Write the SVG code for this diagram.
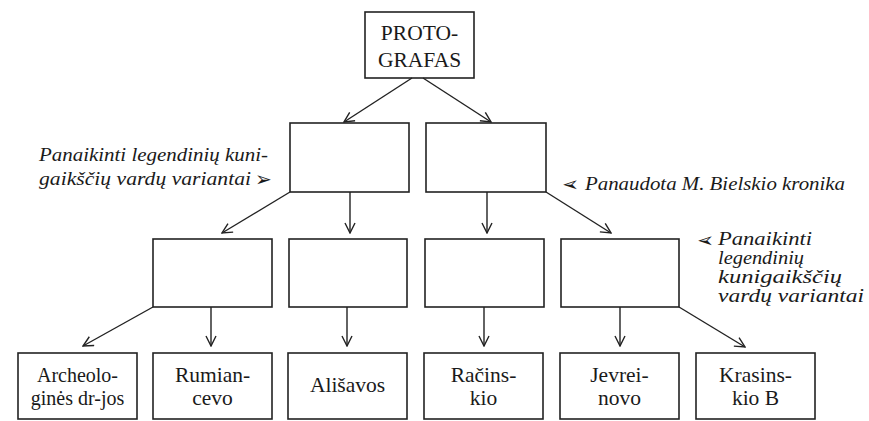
<svg xmlns="http://www.w3.org/2000/svg" width="869" height="421" viewBox="0 0 869 421">
<style>
.box{fill:#fff;stroke:#222;stroke-width:1.6}
.t{font-family:"Liberation Serif","DejaVu Serif","Times New Roman",serif;font-size:21.5px;fill:#1a1a1a;text-anchor:middle}
.s{font-size:20px}
.n{font-family:"Liberation Serif","DejaVu Serif","Times New Roman",serif;font-style:italic;font-size:19px;fill:#1a1a1a}
.m{font-size:18px}
.sym{font-family:"DejaVu Sans",sans-serif;font-size:20px;fill:#1a1a1a}
.c line{stroke:#222;stroke-width:1.4;marker-end:url(#ah)}
</style>
<defs>
<marker id="ah" viewBox="0 0 12 12" refX="11" refY="6" markerWidth="12" markerHeight="12" markerUnits="userSpaceOnUse" orient="auto">
<path d="M1,1 L11,6 L1,11" fill="none" stroke="#222" stroke-width="1.4"/>
</marker>
</defs>
<rect width="869" height="421" fill="#fff"/>
<g id="protografas"><rect class="box" x="365" y="12" width="109" height="66"/><text class="t" x="419.5" y="40">PROTO-</text><text class="t" x="419.5" y="67">GRAFAS</text></g>
<g id="l2a"><rect class="box" x="290" y="123" width="119" height="69"/></g>
<g id="l2b"><rect class="box" x="426" y="123" width="120" height="69"/></g>
<g id="l3a"><rect class="box" x="153" y="239" width="119" height="68"/></g>
<g id="l3b"><rect class="box" x="289" y="239" width="118" height="68"/></g>
<g id="l3c"><rect class="box" x="425" y="239" width="119" height="68"/></g>
<g id="l3d"><rect class="box" x="561" y="239" width="118" height="68"/></g>
<g id="archeologines"><rect class="box" x="18" y="353" width="119" height="66"/><text class="t s" x="77.5" y="382">Archeolo-</text><text class="t s" x="77.5" y="405">ginės dr-jos</text></g>
<g id="rumiancevo"><rect class="box" x="153" y="353" width="119" height="66"/><text class="t" x="212.5" y="382">Rumian-</text><text class="t" x="212.5" y="405">cevo</text></g>
<g id="alisavos"><rect class="box" x="288" y="353" width="119" height="66"/><text class="t" x="347.5" y="392">Ališavos</text></g>
<g id="racinskio"><rect class="box" x="424" y="353" width="119" height="66"/><text class="t" x="483.5" y="382">Račins-</text><text class="t" x="483.5" y="405">kio</text></g>
<g id="jevreinovo"><rect class="box" x="560" y="353" width="119" height="66"/><text class="t" x="619.5" y="382">Jevrei-</text><text class="t" x="619.5" y="405">novo</text></g>
<g id="krasinskio"><rect class="box" x="696" y="353" width="119" height="66"/><text class="t" x="755.5" y="382">Krasins-</text><text class="t" x="755.5" y="405">kio B</text></g>
<g id="notes">
<text class="n" x="39" y="161" textLength="229" lengthAdjust="spacingAndGlyphs">Panaikinti legendinių kuni-</text>
<text class="n" x="39" y="185" textLength="212" lengthAdjust="spacingAndGlyphs">gaikščių vardų variantai</text>
<text class="sym" x="255" y="186">➢</text>
<text class="sym" transform="translate(579,191) scale(-1,1)">➢</text>
<text class="n" x="585" y="190" textLength="260" lengthAdjust="spacingAndGlyphs">Panaudota M. Bielskio kronika</text>
<text class="sym" transform="translate(714,247) scale(-1,1)">➢</text>
<text class="n m" x="718" y="245" textLength="94" lengthAdjust="spacingAndGlyphs">Panaikinti</text>
<text class="n m" x="718" y="264" textLength="86" lengthAdjust="spacingAndGlyphs">legendinių</text>
<text class="n m" x="718" y="283" textLength="124" lengthAdjust="spacingAndGlyphs">kunigaikščių</text>
<text class="n m" x="718" y="302" textLength="146" lengthAdjust="spacingAndGlyphs">vardų variantai</text>
</g>
<g id="connectors" class="c">
<line x1="412" y1="78" x2="344" y2="122"/>
<line x1="423" y1="78" x2="491" y2="122"/>
<line x1="290" y1="192" x2="222" y2="233"/>
<line x1="350" y1="192" x2="350" y2="233"/>
<line x1="487" y1="192" x2="487" y2="233"/>
<line x1="546" y1="192" x2="611" y2="233"/>
<line x1="153" y1="307" x2="83" y2="346"/>
<line x1="211" y1="307" x2="211" y2="346"/>
<line x1="347" y1="307" x2="347" y2="346"/>
<line x1="484" y1="307" x2="484" y2="346"/>
<line x1="620" y1="307" x2="620" y2="346"/>
<line x1="679" y1="307" x2="745" y2="347"/>
</g>
</svg>
